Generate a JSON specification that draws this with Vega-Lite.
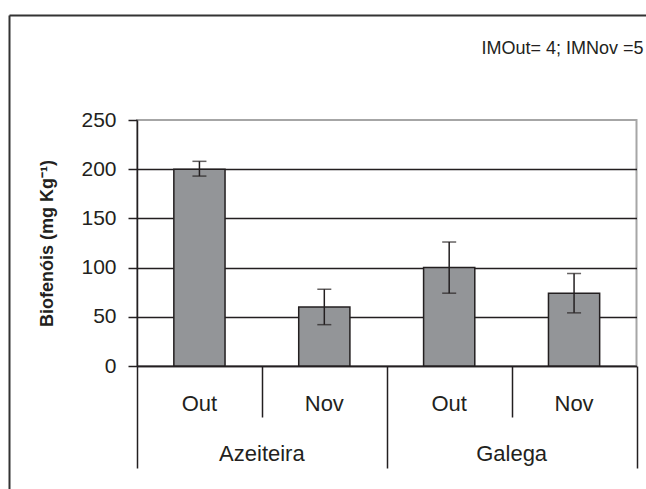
{
  "$schema": "https://vega.github.io/schema/vega-lite/v6.json",
  "width": 499.5,
  "height": 246,
  "autosize": {"type": "none"},
  "padding": {"left": 137, "top": 120, "right": 9.5, "bottom": 123},
  "background": "white",
  "config": {
    "font": "Liberation Sans",
    "view": {"stroke": "#a6a6a6", "strokeWidth": 2},
    "axis": {"labelColor": "#231f20", "titleColor": "#231f20", "labelFont": "Liberation Sans", "titleFont": "Liberation Sans"},
    "axisLeft": {
      "grid": true,
      "gridWidth": 1.5, "domainColor": "#231f20", "domainWidth": 1.5,
      "tickColor": "#231f20", "tickWidth": 1.5, "tickSize": 9,
      "labelPadding": 12, "labelFontSize": 21,
      "titleFontSize": 18, "titleFontWeight": "bold", "titlePadding": 24
    }
  },
  "data": {
    "values": [
      {"variedade": "Azeiteira", "mes": "Out", "cat": "Azeiteira Out", "valor": 200, "lo": 193, "hi": 208},
      {"variedade": "Azeiteira", "mes": "Nov", "cat": "Azeiteira Nov", "valor": 60, "lo": 42, "hi": 78},
      {"variedade": "Galega", "mes": "Out", "cat": "Galega Out", "valor": 100, "lo": 74, "hi": 126},
      {"variedade": "Galega", "mes": "Nov", "cat": "Galega Nov", "valor": 74, "lo": 54, "hi": 94}
    ]
  },
  "layer": [
    {
      "encoding": {
        "x": {
          "field": "cat", "type": "nominal", "sort": null,
          "scale": {"paddingInner": 0.59, "paddingOuter": 0.295},
          "axis": {
            "title": null, "labelExpr": "split(datum.label,' ')[1]", "ticks": false,
            "domainColor": "#231f20", "domainWidth": 1.5, "labelFontSize": 22,
            "labelPadding": 27, "labelAngle": 0
          }
        }
      },
      "layer": [
        {
          "mark": {"type": "bar", "fill": "#939598", "stroke": "#231f20", "strokeWidth": 1.5},
          "encoding": {
            "y": {
              "field": "valor", "type": "quantitative",
              "scale": {"domain": [0, 250], "nice": false},
              "axis": {
                "title": "Biofenóis (mg Kg⁻¹)", "values": [0, 50, 100, 150, 200, 250],
                "gridColor": {"condition": {"test": "datum.value === 250", "value": "transparent"}, "value": "#231f20"}
              }
            }
          }
        },
        {
          "mark": {"type": "rule", "color": "#231f20", "strokeWidth": 1.5},
          "encoding": {
            "y": {
              "field": "lo", "type": "quantitative",
              "axis": {
                "title": "Biofenóis (mg Kg⁻¹)", "values": [0, 50, 100, 150, 200, 250],
                "gridColor": {"condition": {"test": "datum.value === 250", "value": "transparent"}, "value": "#231f20"}
              }
            },
            "y2": {"field": "hi"}
          }
        },
        {
          "mark": {"type": "tick", "color": "#231f20", "thickness": 1.5, "size": 14},
          "encoding": {
            "y": {
              "field": "lo", "type": "quantitative",
              "axis": {
                "title": "Biofenóis (mg Kg⁻¹)", "values": [0, 50, 100, 150, 200, 250],
                "gridColor": {"condition": {"test": "datum.value === 250", "value": "transparent"}, "value": "#231f20"}
              }
            }
          }
        },
        {
          "mark": {"type": "tick", "color": "#231f20", "thickness": 1.5, "size": 14},
          "encoding": {
            "y": {
              "field": "hi", "type": "quantitative",
              "axis": {
                "title": "Biofenóis (mg Kg⁻¹)", "values": [0, 50, 100, 150, 200, 250],
                "gridColor": {"condition": {"test": "datum.value === 250", "value": "transparent"}, "value": "#231f20"}
              }
            }
          }
        }
      ]
    },
    {
      "mark": {"type": "point", "opacity": 0},
      "encoding": {
        "x": {
          "datum": 0, "type": "quantitative",
          "scale": {"domain": [0, 4], "nice": false, "zero": false},
          "axis": {
            "orient": "bottom", "values": [0, 1, 2, 3, 4], "labels": false, "domain": false,
            "grid": false, "title": null, "tickColor": "#231f20", "tickWidth": 1.5,
            "tickSize": {"condition": {"test": "datum.value % 2 === 0", "value": 102}, "value": 51}
          }
        },
        "y": {
          "datum": 0, "type": "quantitative",
          "scale": {"domain": [0, 1], "range": [369, -105], "nice": false, "zero": false},
          "axis": {
            "orient": "left", "offset": 128, "values": [], "labels": false, "ticks": false,
            "grid": false, "title": null, "domainColor": "#333333", "domainWidth": 2
          }
        }
      }
    },
    {
      "mark": {"type": "point", "opacity": 0},
      "encoding": {
        "x": {
          "field": "variedade", "type": "nominal", "sort": null,
          "scale": {"type": "band", "paddingInner": 0, "paddingOuter": 0},
          "axis": {
            "orient": "bottom", "title": null, "ticks": false, "domain": false, "grid": false,
            "labelAngle": 0, "labelFontSize": 22, "labelPadding": 77
          }
        }
      }
    },
    {
      "mark": {"type": "point", "opacity": 0},
      "encoding": {
        "x": {
          "datum": 0, "type": "quantitative",
          "scale": {"domain": [0, 1], "range": [-128, 520], "nice": false, "zero": false},
          "axis": {
            "orient": "top", "offset": 105, "values": [], "ticks": false, "labels": false,
            "grid": false, "domainColor": "#333333", "domainWidth": 2,
            "title": "IMOut= 4; IMNov =5", "titleFont": "Liberation Sans",
            "titleFontSize": 18, "titleFontWeight": "normal", "titleAlign": "right",
            "titleX": 506, "titleY": 38, "titleBaseline": "alphabetic"
          }
        }
      }
    }
  ],
  "resolve": {
    "scale": {"x": "independent", "y": "independent"},
    "axis": {"x": "independent", "y": "independent"}
  }
}
